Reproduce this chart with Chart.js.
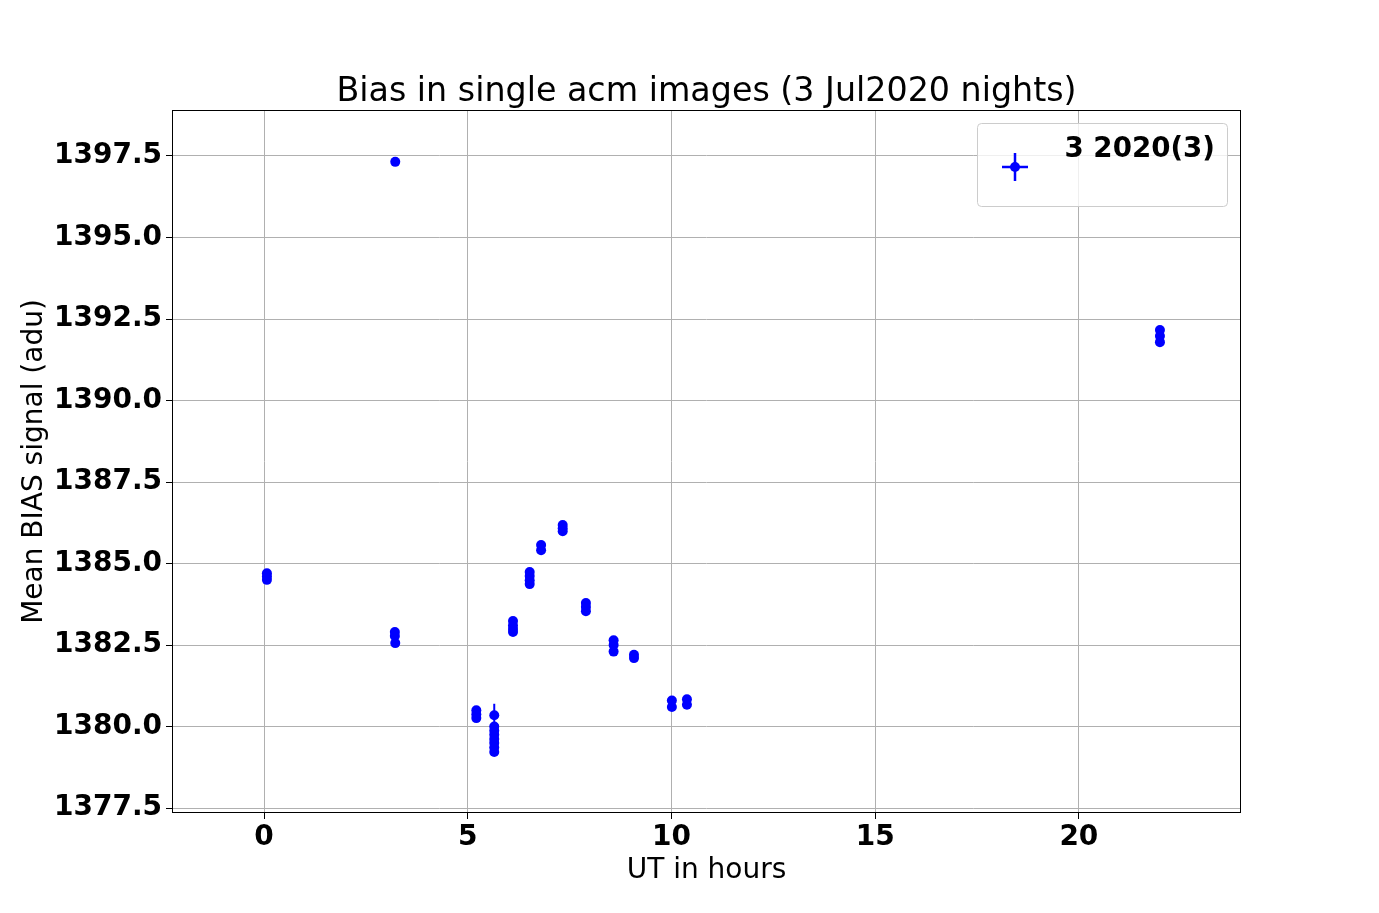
<!DOCTYPE html>
<html>
<head>
<meta charset="utf-8">
<script src="https://cdn.jsdelivr.net/npm/chart.js@4.4.0/dist/chart.umd.min.js"></script>
<style>
body{margin:0;background:#fff;}
#wrap{width:1379px;height:913px;}
</style>
</head>
<body>
<div id="wrap"><canvas id="bias-chart" width="1379" height="913"></canvas></div>
<script>
// UT hours, mean bias (adu) and its error
var utHours = [0.07,0.07,0.07, 3.21,3.21,3.22, 3.22,
	5.21,5.21,5.21,
	5.65,5.65,5.65,5.65,5.65,5.65,5.65,5.65,
	6.11,6.11,6.11,6.11,
	6.52,6.52,6.52,6.52,
	6.80,6.80,
	7.33,7.33,7.33,
	7.90,7.90,7.90,
	8.58,8.58,8.58,
	9.08,9.08,
	10.01,10.01,
	10.38,10.38,
	21.99,21.99,21.99];
var biasMean = [1384.7,1384.6,1384.5, 1382.9,1382.78,1382.56, 1397.32,
	1380.5,1380.38,1380.26,
	1380.35,1380.0,1379.87,1379.75,1379.62,1379.5,1379.36,1379.22,
	1383.24,1383.1,1382.99,1382.9,
	1384.74,1384.62,1384.49,1384.37,
	1385.57,1385.41,
	1386.18,1386.08,1385.99,
	1383.79,1383.67,1383.54,
	1382.65,1382.5,1382.3,
	1382.2,1382.1,
	1380.8,1380.6,
	1380.84,1380.67,
	1392.16,1391.98,1391.79];
var biasErr = [0.05,0.05,0.05, 0.05,0.05,0.05, 0.05,
	0.05,0.05,0.05,
	0.35,0.05,0.05,0.05,0.05,0.05,0.05,0.05,
	0.05,0.05,0.05,0.05,
	0.05,0.05,0.05,0.05,
	0.05,0.05,
	0.05,0.05,0.05,
	0.05,0.05,0.05,
	0.05,0.05,0.05,
	0.05,0.05,
	0.05,0.05,
	0.05,0.05,
	0.05,0.05,0.05];
var xTicks = [0,5,10,15,20];
var yTicks = [1377.5,1380,1382.5,1385,1387.5,1390,1392.5,1395,1397.5];
var legendLabel = '3 2020(3)';
var titleText = 'Bias in single acm images (3 Jul2020 nights)';

var points = [];
for(var i=0;i<utHours.length;i++){
	points.push({x:utHours[i], y:biasMean[i]});
}

var FONT = 'DejaVu Sans';

var extras = {
	id:'extras',
	beforeDatasetsDraw:function(chart){
		var ctx = chart.ctx;
		var xs = chart.scales.x, ys = chart.scales.y;
		ctx.save();
		// error bars
		ctx.strokeStyle = '#0000ff';
		ctx.lineWidth = 2;
		for(var i=0;i<utHours.length;i++){
			var px = xs.getPixelForValue(utHours[i]);
			ctx.beginPath();
			ctx.moveTo(px, ys.getPixelForValue(biasMean[i]-biasErr[i]));
			ctx.lineTo(px, ys.getPixelForValue(biasMean[i]+biasErr[i]));
			ctx.stroke();
		}
		ctx.restore();
	},
	afterDraw:function(chart){
		var ctx = chart.ctx, a = chart.chartArea;
		ctx.save();
		// frame
		ctx.strokeStyle = '#000';
		ctx.lineWidth = 1;
		ctx.strokeRect(a.left+0.5, a.top+0.5, a.right-a.left-1, a.bottom-a.top-1);
		// title
		ctx.fillStyle = '#000';
		ctx.font = '33.3px "' + FONT + '"';
		ctx.textAlign = 'center';
		ctx.textBaseline = 'alphabetic';
		ctx.fillText(titleText, (a.left+a.right)/2, a.top-9);
		// legend box
		var bx = a.right-264, by = a.top+13, bw = 250, bh = 83;
		ctx.fillStyle = 'rgba(255,255,255,0.8)';
		ctx.strokeStyle = '#cccccc';
		ctx.beginPath();
		ctx.roundRect(bx+0.5, by+0.5, bw, bh, 4);
		ctx.fill();
		ctx.stroke();
		var sx = bx+38, sy = by+44;
		ctx.strokeStyle = '#0000ff';
		ctx.lineWidth = 2.5;
		ctx.beginPath();
		ctx.moveTo(sx-13, sy); ctx.lineTo(sx+13, sy);
		ctx.moveTo(sx, sy-14); ctx.lineTo(sx, sy+14);
		ctx.stroke();
		ctx.fillStyle = '#0000ff';
		ctx.beginPath();
		ctx.arc(sx, sy, 5, 0, Math.PI*2);
		ctx.fill();
		ctx.fillStyle = '#000';
		ctx.font = 'bold 27.7px "' + FONT + '"';
		ctx.textAlign = 'right';
		ctx.fillText(legendLabel, bx+bw-12, by+34);
		ctx.restore();
	}
};

var ctx = document.getElementById('bias-chart');
var biasChart = new Chart(ctx, {
	type:'scatter',
	data:{
		datasets:[{
			label:legendLabel,
			data:points,
			backgroundColor:'#0000ff',
			borderWidth:0,
			pointRadius:5,
			pointHoverRadius:5
		}]
	},
	options:{
		responsive:false,
		animation:false,
		layout:{padding:{left:18,right:138,top:110,bottom:25}},
		plugins:{legend:{display:false},tooltip:{enabled:false},title:{display:false}},
		scales:{
			x:{
				type:'linear',
				min:-2.26,
				max:23.98,
				afterBuildTicks:function(s){ s.ticks = xTicks.map(function(v){return {value:v};}); },
				afterFit:function(s){ s.height = 75; },
				grid:{color:'#b0b0b0',lineWidth:1,tickLength:6,tickColor:'#000'},
				border:{display:false},
				ticks:{color:'#000',font:{family:FONT,size:28,weight:'bold'},padding:2,maxRotation:0,
					callback:function(v){return v;}},
				title:{display:true,text:'UT in hours',color:'#000',font:{family:FONT,size:28},padding:{top:0,bottom:0}}
			},
			y:{
				type:'linear',
				min:1377.35,
				max:1398.91,
				afterBuildTicks:function(s){ s.ticks = yTicks.map(function(v){return {value:v};}); },
				afterFit:function(s){ s.width = 154; },
				grid:{color:'#b0b0b0',lineWidth:1,tickLength:6,tickColor:'#000'},
				border:{display:false},
				ticks:{color:'#000',font:{family:FONT,size:28,weight:'bold'},padding:4,
					callback:function(v){return v.toFixed(1);}},
				title:{display:true,text:'Mean BIAS signal (adu)',color:'#000',font:{family:FONT,size:28},padding:{top:0,bottom:4}}
			}
		}
	},
	plugins:[extras]
});
</script>
</body>
</html>
